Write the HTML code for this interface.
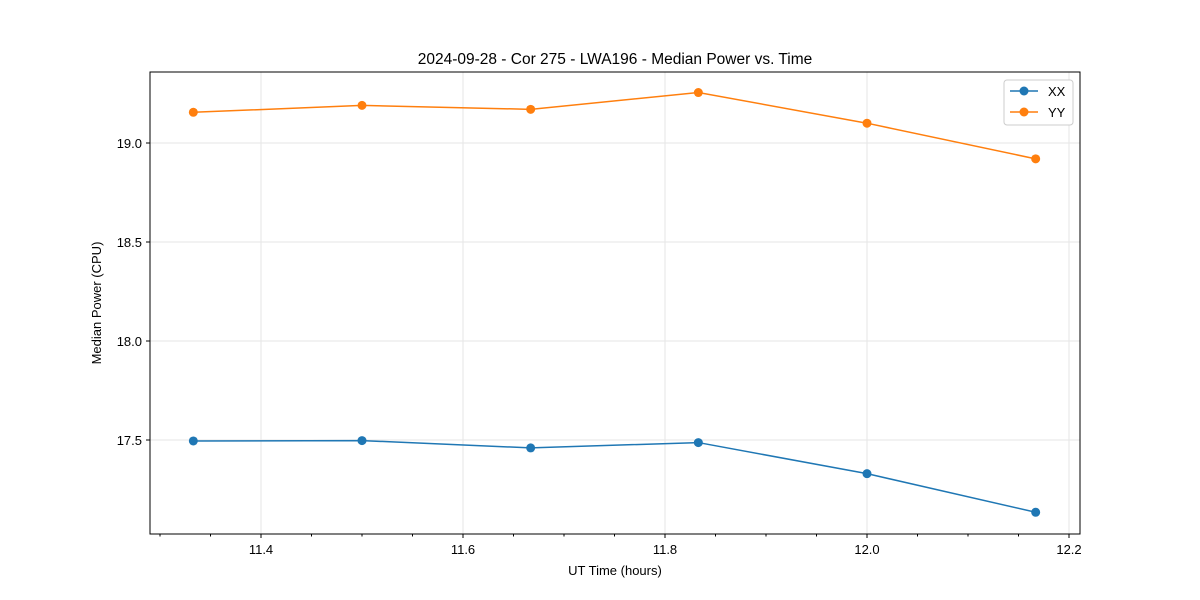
<!DOCTYPE html>
<html><head><meta charset="utf-8"><style>
body{margin:0;background:#fff;}
svg{display:block;font-family:"Liberation Sans","DejaVu Sans",sans-serif;}
</style></head><body>
<svg id="chart" width="1200" height="600">
<rect width="1200" height="600" fill="#fff"/>
<text x="615" y="64" text-anchor="middle" font-size="15.5">2024-09-28 - Cor 275 - LWA196 - Median Power vs. Time</text>
<g id="grid"></g>
<g id="ticks"></g>
<g id="series"></g>
<rect x="150" y="72" width="930" height="462" fill="none" stroke="#000" stroke-width="1"/>
<text x="615" y="575" text-anchor="middle" font-size="13">UT Time (hours)</text>
<text x="101" y="303" text-anchor="middle" font-size="13" transform="rotate(-90 101 303)">Median Power (CPU)</text>
<g>
<rect x="1004" y="80" width="69" height="45" rx="3" fill="#fff" stroke="#ccc"/>
<g><line x1="1010" y1="91" x2="1038" y2="91" stroke="#1f77b4" stroke-width="1.5"/><circle cx="1024" cy="91" r="4.5" fill="#1f77b4"/><text x="1048" y="96" font-size="13">XX</text></g>
<g><line x1="1010" y1="112" x2="1038" y2="112" stroke="#ff7f0e" stroke-width="1.5"/><circle cx="1024" cy="112" r="4.5" fill="#ff7f0e"/><text x="1048" y="117" font-size="13">YY</text></g>
</g>
</svg>
<script>
const times=[11.333,11.5,11.667,11.833,12.0,12.167];
const xxValues=[17.495,17.497,17.46,17.487,17.33,17.135];
const yyValues=[19.155,19.19,19.17,19.255,19.10,18.92];
const xTickLabels=["11.4","11.6","11.8","12.0","12.2"];
const yTickLabels=["17.5","18.0","18.5","19.0"];
const NS="http://www.w3.org/2000/svg";
function xs(v){return 261+(v-11.4)*1010;}
function ys(v){return 440-(v-17.5)*198;}
function mk(tag,attrs,parent){const e=document.createElementNS(NS,tag);for(const k in attrs)e.setAttribute(k,attrs[k]);parent.appendChild(e);return e;}
const grid=document.getElementById('grid'),ticks=document.getElementById('ticks'),series=document.getElementById('series');
xTickLabels.forEach(t=>{const x=xs(parseFloat(t));
const g=mk('line',{x1:x,x2:x,y1:72,y2:534,stroke:'#e5e5e5','stroke-width':1},grid);

mk('line',{x1:x,x2:x,y1:534,y2:538,stroke:'#000'},ticks);
const tx=mk('text',{x:x,y:554,'text-anchor':'middle','font-size':13},ticks);tx.textContent=t;
});
for(let v=11.3;v<12.21;v+=0.05){const x=xs(v);if(x<150||x>1080)continue;mk('line',{x1:x,x2:x,y1:534,y2:536.5,stroke:'#000'},ticks);}
yTickLabels.forEach(t=>{const y=ys(parseFloat(t));
const g=mk('line',{x1:150,x2:1080,y1:y,y2:y,stroke:'#e5e5e5','stroke-width':1},grid);

mk('line',{x1:146,x2:150,y1:y,y2:y,stroke:'#000'},ticks);
const tx=mk('text',{x:142,y:y+5,'text-anchor':'end','font-size':13},ticks);tx.textContent=t;
});
function draw(vals,color,name){
const pl=mk('polyline',{points:times.map((t,i)=>xs(t)+','+ys(vals[i])).join(' '),fill:'none',stroke:color,'stroke-width':1.5},series);

times.forEach((t,i)=>{const c=mk('circle',{cx:xs(t),cy:ys(vals[i]),r:4.5,fill:color},series);
});}
draw(xxValues,'#1f77b4','xx');
draw(yyValues,'#ff7f0e','yy');
</script>
</body></html>
